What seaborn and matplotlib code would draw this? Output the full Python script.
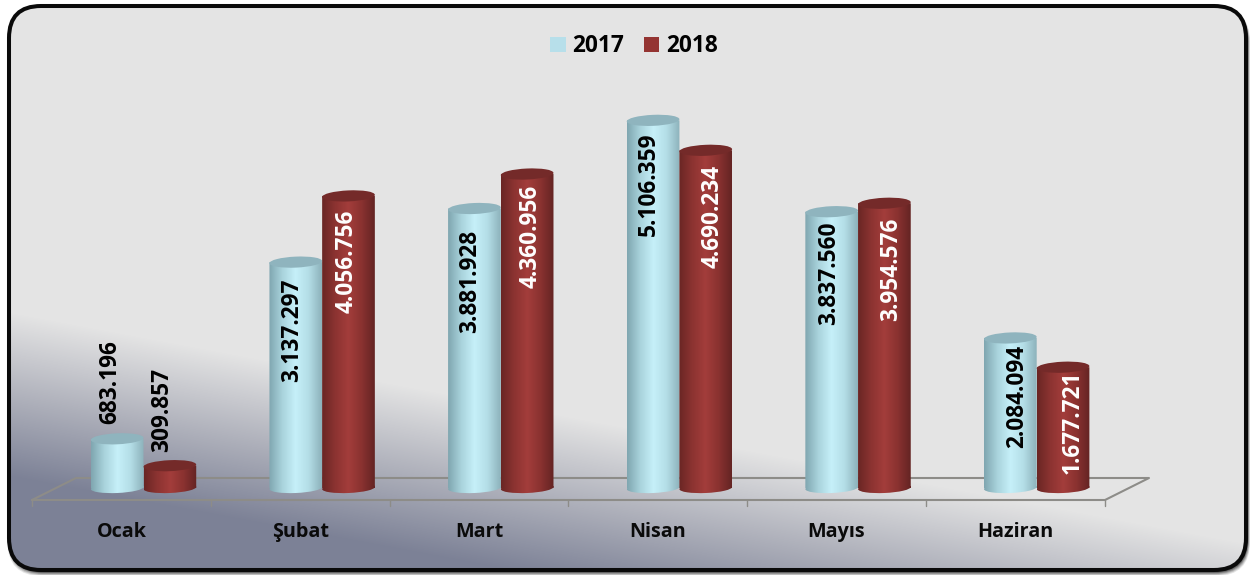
import matplotlib
matplotlib.use('Agg')

import numpy as np
import pandas as pd
import matplotlib.pyplot as plt
import seaborn as sns
from matplotlib.colors import LinearSegmentedColormap
from matplotlib.patches import Ellipse, FancyBboxPatch
from matplotlib.path import Path
from matplotlib.transforms import IdentityTransform, ScaledTranslation

months = ["Ocak", "Şubat", "Mart", "Nisan", "Mayıs", "Haziran"]
values_2017 = [683196, 3137297, 3881928, 5106359, 3837560, 2084094]
values_2018 = [309857, 4056756, 4360956, 4690234, 3954576, 1677721]
years = ["2017", "2018"]

W, H = 1252, 575
BASE_PX = 488          # y of the value 0, counted from the top of the picture
PX_PER_UNIT = 72.0e-6

# fine placement of the rotated labels, in pixels from the top of each bar
label_dx = {"2017": [-7, -4, -4, -4, -3, 7], "2018": [-8, -2, 3, 7, 7, 10]}
label_dy = {"2017": [-57, 68, 73, 64, 62, 58], "2018": [-56, 65, 62, 66, 66, 55]}

sns.set_theme(style="white")
plt.rcParams['font.family'] = ['Open Sans', 'DejaVu Sans']

df = pd.DataFrame({
    "ay": months * 2,
    "yil": [years[0]] * 6 + [years[1]] * 6,
    "deger": values_2017 + values_2018,
})

fig = plt.figure(figsize=(W / 100, H / 100), dpi=100, facecolor="white")

# ── background panel in pixel coordinates ──
bg = fig.add_axes([0, 0, 1, 1], zorder=0)
bg.set_xlim(0, W)
bg.set_ylim(H, 0)
bg.axis("off")

for grow, alpha in [(5, 0.10), (4, 0.14), (3, 0.18), (2, 0.25), (1, 0.3)]:
    bg.add_patch(FancyBboxPatch((9 + 1.5 - grow * 0.6, 6 + 1.5), 1237 + grow * 1.1, 564 + grow * 0.9,
                                boxstyle="round,pad=0,rounding_size=34", fc="black",
                                ec="none", alpha=alpha, zorder=0.5))

panel = FancyBboxPatch((9, 6), 1237, 564, boxstyle="round,pad=0,rounding_size=32",
                       fc="none", ec="none")
bg.add_patch(panel)
xx, yy = np.meshgrid(np.arange(W), np.arange(H))
shade = np.clip((yy - 0.187 * xx - 310) / 165, 0, 1)
bg_cmap = LinearSegmentedColormap.from_list("bg", ["#e4e4e4", "#b0b2bc", "#7c8196"])
img = bg.imshow(shade, cmap=bg_cmap, vmin=0, vmax=1, extent=(0, W, H, 0), aspect="auto", zorder=1)
img.set_clip_path(panel)
bg.set_xlim(0, W)
bg.set_ylim(H, 0)
bg.add_patch(FancyBboxPatch((9, 6), 1237, 564, boxstyle="round,pad=0,rounding_size=32",
                            fc="none", ec="#0a0a0a", lw=2.9, zorder=2))

# floor of the 3d chart
floor = "#8d8c88"
bg.plot([32, 1105, 1149, 76, 32], [500, 500, 478, 478, 500], color=floor, lw=1.5, zorder=2)
for i in range(7):
    tick_x = 32 + i * 178.8
    bg.plot([tick_x, tick_x], [500, 506], color=floor, lw=1.0, zorder=2)

# ── bars ──
left = 54.2 / W
bottom = (H - 520) / H
ax = fig.add_axes([left, bottom, 1071.8 / W, 520 / H], zorder=1)
ax.patch.set_alpha(0)
palette = {"2017": "#b7dfea", "2018": "#943432"}
sns.barplot(data=df, x="ay", y="deger", hue="yil", palette=palette, width=0.59, gap=0,
            saturation=1, ax=ax, order=months, hue_order=years, linewidth=0)
ax.set_xlim(-0.5, 5.5)
ax.set_ylim(-(520 - BASE_PX) / PX_PER_UNIT, BASE_PX / PX_PER_UNIT)
ax.set_xlabel("")
ax.set_ylabel("")
ax.set_yticks([])
ax.tick_params(axis="x", length=0, pad=1.5)
sns.despine(ax=ax, left=True, bottom=True)

body_cmaps = {
    "2017": LinearSegmentedColormap.from_list("c17", ["#7fa6b0", "#a9d3dc", "#c6f0f9", "#b4dee7", "#8db2bb"]),
    "2018": LinearSegmentedColormap.from_list("c18", ["#6a2624", "#8c3331", "#a33d3b", "#8a3230", "#642423"]),
}
top_colors = {"2017": "#8fb4be", "2018": "#742a29"}
gradient = np.linspace(0, 1, 128)[None, :]
TILT = 2.5
RY = 5.5

fig.canvas.draw()
for container, year in zip(ax.containers, years):
    for k, bar in enumerate(container):
        x0, x1 = bar.get_x(), bar.get_x() + bar.get_width()
        value = bar.get_height()
        bar.set_visible(False)
        (px0, py0), (px1, py1) = ax.transData.transform([(x0, 0), (x1, value)])
        cx = (px0 + px1) / 2
        width = px1 - px0
        foot = Ellipse((cx, py0), width, 2 * RY - 1, angle=TILT, transform=IdentityTransform())
        foot_path = foot.get_patch_transform().transform_path(foot.get_path())
        rect = Path([(px0, py0), (px1, py0), (px1, py1), (px0, py1), (px0, py0)], closed=True)
        clip = Path.make_compound_path(rect, foot_path)
        im = ax.imshow(gradient, cmap=body_cmaps[year], extent=(x0, x1, -9 / PX_PER_UNIT, value),
                       aspect="auto", zorder=3)
        im.set_clip_path(clip, IdentityTransform())
        ax.add_patch(Ellipse((cx, py1), width, 2 * RY, angle=TILT, transform=IdentityTransform(),
                             fc=top_colors[year], ec="none", zorder=4))
        text = f"{int(value):,}".replace(",", ".")
        ax.annotate(text, (bar.get_x() + bar.get_width() / 2, value),
                    xytext=(label_dx[year][k] * 0.72, -label_dy[year][k] * 0.72),
                    textcoords="offset points", rotation=90, ha="center", va="center",
                    fontsize=16.3, fontweight="bold", zorder=6,
                    color="white" if (year == "2018" and k > 0) else "black")

ax.set_xlim(-0.5, 5.5)
ax.set_ylim(-(520 - BASE_PX) / PX_PER_UNIT, BASE_PX / PX_PER_UNIT)

shift = ScaledTranslation(-21.5 / 100, 0, fig.dpi_scale_trans)
for lab in ax.get_xticklabels():
    lab.set_transform(lab.get_transform() + shift)
    lab.set_fontsize(14.2)
    lab.set_fontweight("bold")
    lab.set_color("#0a0a0a")

ax.legend(loc="center", bbox_to_anchor=(634 / W, 1 - 46.5 / H), bbox_transform=fig.transFigure,
          ncol=2, frameon=False, handlelength=0.68, handleheight=0.68, handletextpad=0.3,
          columnspacing=0.85, labelcolor="black",
          prop={"family": "Open Sans", "weight": "bold", "size": 16.3})

fig.savefig("out.png", dpi=100)
plt.close(fig)
